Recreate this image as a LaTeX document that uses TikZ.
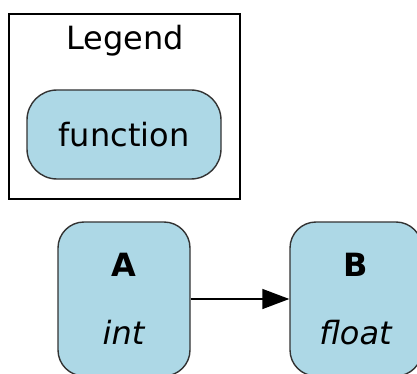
\documentclass[tikz,border=0pt]{standalone}
\usepackage{fontspec}
\setmainfont{DejaVu Sans}
\usetikzlibrary{arrows.meta, positioning}

\definecolor{fnblue}{HTML}{ADD8E6}
\tikzset{
  fnbox/.style={draw=black!80, fill=fnblue, rounded corners=26pt, line width=1.4pt},
  legendbox/.style={draw, line width=1.5pt, inner sep=0pt},
}

\begin{document}
\begin{tikzpicture}[x=1pt, y=-1pt, font=\fontsize{32}{38}\selectfont]
\useasboundingbox (0,0) rectangle (417,374);
% legend
\node[legendbox, minimum width=231pt, minimum height=185pt] (legend) at (124.5,106.5) {};
\node (legendtitle) at (125,41) {Legend};
\node[fnbox, rounded corners=30pt, minimum width=194pt, minimum height=89pt] (fn) at (124,134.5) {function};
% functions
\node[fnbox, minimum width=132pt, minimum height=154pt, align=center] (a) at (124,299) {\textbf{A}\\[30pt]\textit{int}};
\node[fnbox, minimum width=132pt, minimum height=154pt, align=center] (b) at (356,299) {\textbf{B}\\[30pt]\textit{float}};
\draw[-{Triangle[length=27pt,width=20pt]}, line width=1.5pt] (a) -- (b);
\end{tikzpicture}
\end{document}
